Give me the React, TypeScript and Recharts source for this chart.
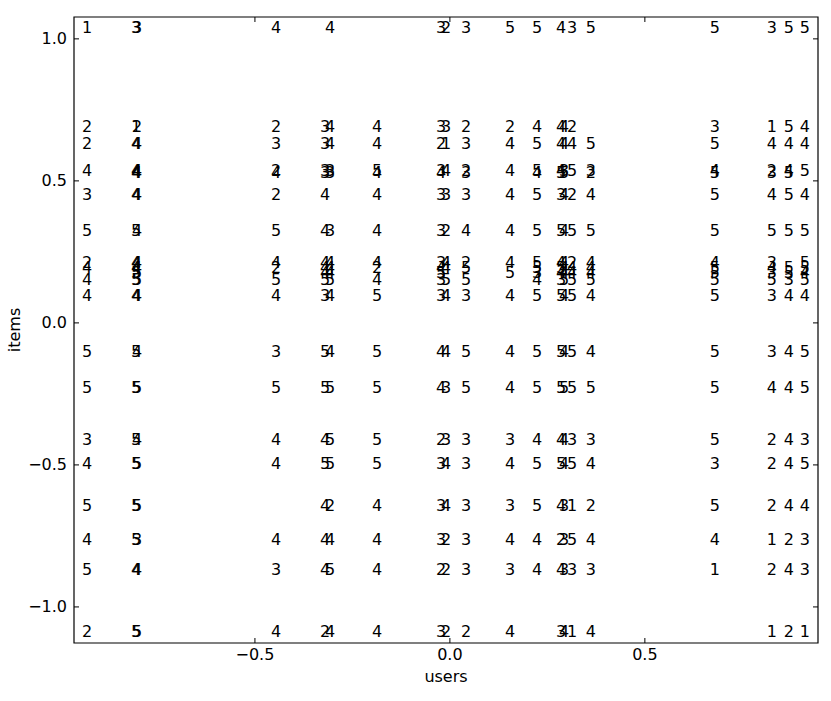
import { ScatterChart, Scatter, XAxis, YAxis, ReferenceArea } from 'recharts';

// user positions (x) and item positions (y)
const userPos = [-0.9436, -0.8179, -0.8154, -0.459, -0.3333, -0.3205, -0.2, -0.0359, -0.0231, 0.0282, 0.141, 0.2103, 0.2718, 0.2795, 0.3, 0.3487, 0.6667, 0.8128, 0.8564, 0.8974];
const itemPos = [1.021, 0.673, 0.613, 0.518, 0.511, 0.433, 0.306, 0.194, 0.176, 0.158, 0.134, 0.077, -0.12, -0.246, -0.43, -0.514, -0.662, -0.782, -0.887, -1.106];

// ratings[item][user], 0 = not rated
const ratings = [
  [1, 3, 3, 4, 0, 4, 0, 3, 2, 3, 5, 5, 4, 0, 3, 5, 5, 3, 5, 5],
  [2, 1, 2, 2, 3, 4, 4, 3, 3, 2, 2, 4, 4, 4, 2, 0, 3, 1, 5, 4],
  [2, 4, 4, 3, 3, 4, 4, 2, 1, 3, 4, 5, 4, 4, 4, 5, 5, 4, 4, 4],
  [4, 4, 4, 2, 3, 3, 5, 3, 4, 2, 4, 5, 4, 3, 5, 3, 4, 2, 4, 5],
  [0, 4, 4, 4, 3, 3, 4, 4, 0, 3, 0, 4, 5, 5, 0, 2, 5, 3, 5, 0],
  [3, 4, 4, 2, 4, 0, 4, 3, 3, 3, 4, 5, 3, 4, 2, 4, 5, 4, 5, 4],
  [5, 5, 4, 5, 4, 3, 4, 3, 2, 4, 4, 5, 5, 4, 5, 5, 5, 5, 5, 5],
  [2, 4, 4, 4, 4, 4, 4, 3, 4, 2, 4, 5, 4, 4, 2, 4, 4, 3, 0, 5],
  [4, 4, 4, 2, 4, 4, 2, 4, 4, 5, 0, 5, 5, 4, 4, 4, 5, 4, 5, 5],
  [0, 5, 5, 0, 4, 4, 0, 5, 0, 0, 5, 3, 4, 4, 4, 4, 5, 3, 5, 4],
  [4, 5, 5, 5, 5, 5, 4, 3, 5, 5, 0, 4, 3, 5, 5, 5, 5, 5, 3, 5],
  [4, 4, 4, 4, 3, 4, 5, 3, 4, 3, 4, 5, 5, 4, 5, 4, 5, 3, 4, 4],
  [5, 5, 4, 3, 5, 4, 5, 4, 4, 5, 4, 5, 5, 4, 5, 4, 5, 3, 4, 5],
  [5, 5, 5, 5, 5, 5, 5, 4, 3, 5, 4, 5, 5, 5, 5, 5, 5, 4, 4, 5],
  [3, 5, 4, 4, 4, 5, 5, 2, 3, 3, 3, 4, 4, 4, 3, 3, 5, 2, 4, 3],
  [4, 5, 5, 4, 5, 5, 5, 3, 4, 3, 4, 5, 5, 4, 5, 4, 3, 2, 4, 5],
  [5, 5, 5, 0, 4, 2, 4, 3, 4, 3, 3, 5, 4, 3, 1, 2, 5, 2, 4, 4],
  [4, 5, 3, 4, 4, 4, 4, 3, 2, 3, 4, 4, 2, 3, 5, 4, 4, 1, 2, 3],
  [5, 4, 4, 3, 4, 5, 4, 2, 2, 3, 3, 4, 4, 3, 3, 3, 1, 2, 4, 3],
  [2, 5, 5, 4, 2, 4, 4, 3, 2, 2, 4, 0, 3, 4, 1, 4, 0, 1, 2, 1],
];

const xTicks = [-0.5, 0, 0.5];
const yTicks = [-1, -0.5, 0, 0.5, 1];
const xDomain = [-0.964, 0.944];
const yDomain = [-1.127, 1.077];

const FONT = 'DejaVu Sans';
const W = 831;
const H = 701;
const L = 74, R = 818, T = 17, B = 643;

const points: { x: number; y: number; r: number }[] = [];
ratings.forEach((row, i) => {
  row.forEach((r, j) => {
    if (r > 0) points.push({ x: userPos[j], y: itemPos[i], r });
  });
});

const fmt = (v: number) => (v < 0 ? '\u2212' : '') + Math.abs(v).toFixed(1);

const XTick = (props: any) => {
  const { x, payload } = props;
  return (
    <g>
      <line x1={x} x2={x} y1={B} y2={B - 5} stroke="#000" />
      <line x1={x} x2={x} y1={T} y2={T + 5} stroke="#000" />
      <text x={x} y={660} textAnchor="middle" fontSize={16} fontFamily={FONT} fill="#000">
        {fmt(payload.value)}
      </text>
    </g>
  );
};

const YTick = (props: any) => {
  const { y, payload } = props;
  return (
    <g>
      <line x1={L} x2={L + 5} y1={y} y2={y} stroke="#000" />
      <line x1={R - 5} x2={R} y1={y} y2={y} stroke="#000" />
      <text x={L - 7} y={y + 5.5} textAnchor="end" fontSize={16} fontFamily={FONT} fill="#000">
        {fmt(payload.value)}
      </text>
    </g>
  );
};

const Rating = (props: any) => (
  <text x={props.cx} y={props.cy} fontSize={16} fontFamily={FONT} fill="#000">
    {props.payload.r}
  </text>
);

export default function App() {
  return (
    <div style={{ position: 'absolute', left: 0, top: 0, background: '#fff' }}>
      <ScatterChart width={W} height={H} margin={{ top: T, right: W - R, bottom: 0, left: 0 }}>
        <XAxis
          type="number"
          dataKey="x"
          domain={xDomain}
          ticks={xTicks}
          allowDataOverflow
          height={H - B}
          axisLine={false}
          tickLine={false}
          tick={<XTick />}
          label={{ value: 'users', position: 'insideBottom', offset: 19, fontSize: 16, fontFamily: FONT, fill: '#000' }}
        />
        <YAxis
          type="number"
          dataKey="y"
          domain={yDomain}
          ticks={yTicks}
          allowDataOverflow
          width={L}
          axisLine={false}
          tickLine={false}
          tick={<YTick />}
          label={{
            content: () => (
              <text
                x={20}
                y={(T + B) / 2}
                transform={`rotate(-90, 20, ${(T + B) / 2})`}
                textAnchor="middle"
                fontSize={16}
                fontFamily={FONT}
                fill="#000"
              >
                items
              </text>
            ),
          }}
        />
        <ReferenceArea
          x1={xDomain[0]}
          x2={xDomain[1]}
          y1={yDomain[0]}
          y2={yDomain[1]}
          fill="none"
          fillOpacity={0}
          stroke="#000"
          strokeWidth={1.2}
          ifOverflow="visible"
        />
        <Scatter data={points} shape={<Rating />} isAnimationActive={false} />
      </ScatterChart>
    </div>
  );
}
